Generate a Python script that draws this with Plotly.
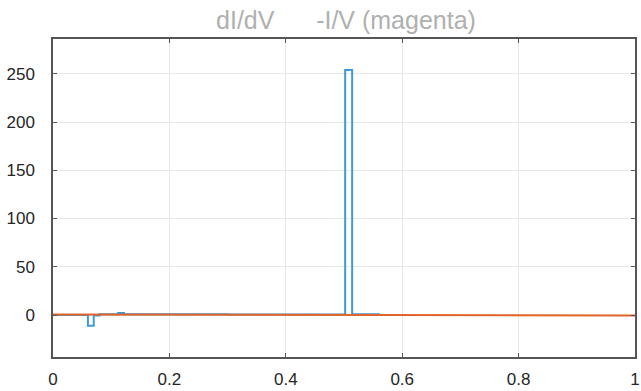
import plotly.graph_objects as go

# dI/dV (blue, stairs)
didv_x = [0.0, 0.060, 0.070, 0.080, 0.112, 0.122, 0.30, 0.502, 0.514, 0.562]
didv_y = [0.0, -11.0, -0.5, 0.8, 2.0, 0.8, 0.6, 254.0, 0.8, 0.8]

# -I/V (orange)
iv_x = [0.0, 0.5, 1.0]
iv_y = [0.6, 0.0, -0.4]

x_ticks = [0, 0.2, 0.4, 0.6, 0.8, 1]
x_tick_labels = ["0", "0.2", "0.4", "0.6", "0.8", "1"]
y_ticks = [0, 50, 100, 150, 200, 250]
y_tick_labels = ["0", "50", "100", "150", "200", "250"]

fig = go.Figure()
fig.add_trace(go.Scatter(x=didv_x, y=didv_y, mode="lines", line_shape="hv",
                         line=dict(color="#3d9ad9", width=2), showlegend=False))
fig.add_trace(go.Scatter(x=iv_x, y=iv_y, mode="lines",
                         line=dict(color="#e0632a", width=2), showlegend=False))

axis_common = dict(showline=True, linecolor="#555555", linewidth=1.5, mirror="ticks",
                   ticks="inside", ticklen=4, tickcolor="#555555", automargin=False,
                   showgrid=True, gridcolor="#e8e8e8", gridwidth=1, zeroline=False,
                   tickfont=dict(family="Liberation Sans, Arial, sans-serif", size=17, color="#262626"))

fig.update_xaxes(range=[0, 1], tickvals=x_ticks, ticktext=x_tick_labels,
                 ticklabelstandoff=6, **axis_common)
fig.update_yaxes(range=[-43.5, 286], tickvals=y_ticks, ticktext=y_tick_labels,
                 ticklabelstandoff=13, **axis_common)

fig.update_layout(
    width=641, height=391,
    margin=dict(l=53, r=6, t=39, b=34),
    paper_bgcolor="white", plot_bgcolor="white",
    title=dict(text="dI/dV      -I/V (magenta)", x=346 / 641, xanchor="center",
               y=1 - 20 / 391, yanchor="middle",
               font=dict(family="Liberation Sans, Arial, sans-serif", size=25, color="#b0b0b0")),
)

fig.write_html("out.html", config={"displayModeBar": False},
               post_script="document.body.style.margin='0';document.body.style.overflow='hidden';")
